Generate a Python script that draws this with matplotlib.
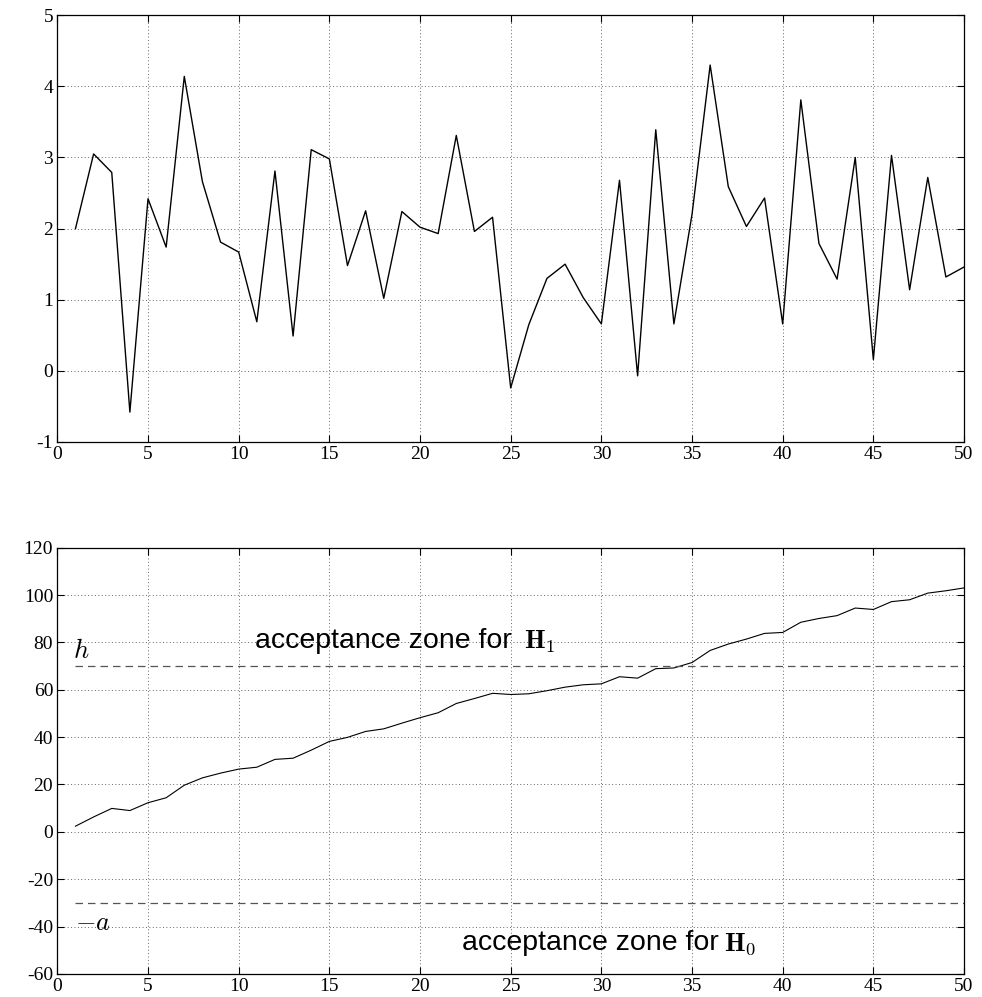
import numpy as np
import matplotlib
matplotlib.use('Agg')
import matplotlib.pyplot as plt

plt.rcParams['mathtext.fontset'] = 'cm'
plt.rcParams['axes.unicode_minus'] = False
plt.rcParams['font.family'] = 'Liberation Serif'

# observations (top) and cumulative log-likelihood ratio (bottom)
samples = np.arange(1, 51)
observations = [2.00, 3.05, 2.79, -0.58, 2.42, 1.74, 4.14, 2.66, 1.81, 1.67,
                0.69, 2.81, 0.49, 3.11, 2.98, 1.48, 2.25, 1.02, 2.24, 2.02,
                1.93, 3.31, 1.96, 2.16, -0.24, 0.65, 1.30, 1.50, 1.03, 0.66,
                2.68, -0.07, 3.39, 0.66, 2.20, 4.30, 2.59, 2.03, 2.43, 0.66,
                3.81, 1.79, 1.29, 3.00, 0.16, 3.03, 1.14, 2.72, 1.32, 1.46]
cumsum_llr = [2.4, 6.3, 9.9, 9.0, 12.3, 14.4, 19.7, 22.8, 24.8, 26.5,
              27.3, 30.6, 31.1, 34.5, 38.2, 39.9, 42.4, 43.5, 45.9, 48.2,
              50.3, 54.2, 56.3, 58.5, 58.0, 58.3, 59.6, 61.1, 62.1, 62.5,
              65.5, 64.9, 68.9, 69.2, 71.5, 76.6, 79.3, 81.4, 83.8, 84.2,
              88.5, 90.1, 91.3, 94.5, 93.9, 97.2, 98.0, 100.8, 101.8, 103.0]
h_threshold = 70
a_threshold = -30

x_ticks = np.arange(0, 51, 5)
top_yticks = np.arange(-1, 6, 1)
bottom_yticks = np.arange(-60, 121, 20)


def style_axes(ax):
    ax.grid(True, linestyle=(0, (1, 2.5)), color='#666666', linewidth=0.7)
    ax.tick_params(direction='in', length=5, top=True, right=True,
                   labelsize=14, pad=3)
    for spine in ax.spines.values():
        spine.set_linewidth(0.9)


fig = plt.figure(figsize=(9.82, 9.97), dpi=100)

ax1 = fig.add_axes([0.0584, 0.5567, 0.9233, 0.428])
ax1.plot(samples, observations, color='black', linewidth=1.0)
ax1.set_xlim(0, 50)
ax1.set_ylim(-1, 5)
ax1.set_xticks(x_ticks)
ax1.set_yticks(top_yticks)
style_axes(ax1)

ax2 = fig.add_axes([0.0584, 0.0231, 0.9233, 0.4276])
ax2.plot(samples, cumsum_llr, color='black', linewidth=0.8)
ax2.plot([samples[0], samples[-1]], [h_threshold, h_threshold],
         color='#555555', linestyle=(0, (6, 4)), linewidth=0.9)
ax2.plot([samples[0], samples[-1]], [a_threshold, a_threshold],
         color='#555555', linestyle=(0, (6, 4)), linewidth=0.9)
ax2.set_xlim(0, 50)
ax2.set_ylim(-60, 120)
ax2.set_xticks(x_ticks)
ax2.set_yticks(bottom_yticks)
style_axes(ax2)

ax2.text(0.87, 73.4, r'$h$', fontsize=19)
ax2.text(0.98, -41.5, r'$-a$', fontsize=19)
ax2.text(10.9, 77.6, 'acceptance zone for', fontsize=20.5,
         family='Liberation Sans')
ax2.text(25.75, 77.6, r'$\mathbf{H}_1$', fontsize=19)
ax2.text(22.3, -49.9, 'acceptance zone for', fontsize=20.5,
         family='Liberation Sans')
ax2.text(36.75, -49.9, r'$\mathbf{H}_0$', fontsize=19)

fig.savefig('out.png', dpi=100)
